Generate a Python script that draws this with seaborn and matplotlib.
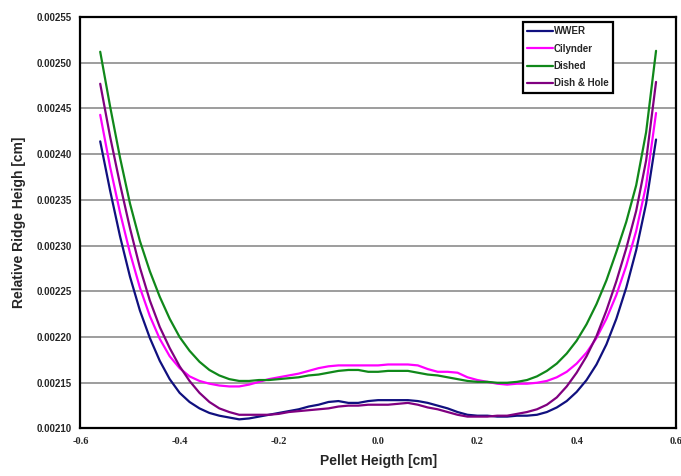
import numpy as np
import pandas as pd
import seaborn as sns
import matplotlib
matplotlib.use('Agg')
import matplotlib.pyplot as plt

# pellet height positions [cm]
x_pos = [-0.56, -0.54, -0.52, -0.50, -0.48, -0.46, -0.44, -0.42, -0.40, -0.38,
         -0.36, -0.34, -0.32, -0.30, -0.28, -0.26, -0.24, -0.22, -0.20, -0.18,
         -0.16, -0.14, -0.12, -0.10, -0.08, -0.06, -0.04, -0.02, 0.00, 0.02,
         0.04, 0.06, 0.08, 0.10, 0.12, 0.14, 0.16, 0.18, 0.20, 0.22,
         0.24, 0.26, 0.28, 0.30, 0.32, 0.34, 0.36, 0.38, 0.40, 0.42,
         0.44, 0.46, 0.48, 0.50, 0.52, 0.54, 0.56]

# relative ridge height, in units of 1e-5 cm
wwer = [241.4, 236.0, 231.0, 226.6, 222.9, 219.9, 217.4, 215.4, 213.9, 212.9,
        212.2, 211.7, 211.4, 211.2, 211.0, 211.1, 211.3, 211.5, 211.7, 211.9,
        212.1, 212.4, 212.6, 212.9, 213.0, 212.8, 212.8, 213.0, 213.1, 213.1,
        213.1, 213.1, 213.0, 212.8, 212.5, 212.2, 211.8, 211.5, 211.4, 211.4,
        211.3, 211.3, 211.4, 211.4, 211.5, 211.8, 212.3, 213.0, 214.0, 215.3,
        217.0, 219.2, 222.0, 225.4, 229.5, 234.6, 241.6]
cilynder = [244.3, 238.6, 233.6, 229.2, 225.4, 222.3, 219.8, 217.9, 216.6, 215.7,
            215.2, 214.9, 214.7, 214.6, 214.6, 214.8, 215.1, 215.4, 215.6, 215.8,
            216.0, 216.3, 216.6, 216.8, 216.9, 216.9, 216.9, 216.9, 216.9, 217.0,
            217.0, 217.0, 216.9, 216.5, 216.2, 216.2, 216.1, 215.6, 215.3, 215.1,
            214.9, 214.8, 214.9, 214.9, 215.0, 215.2, 215.6, 216.2, 217.1, 218.3,
            219.9, 222.0, 224.6, 227.8, 231.6, 236.6, 244.5]
dished = [251.2, 245.2, 239.6, 234.6, 230.5, 227.2, 224.4, 222.0, 220.0, 218.5,
          217.3, 216.4, 215.8, 215.4, 215.2, 215.2, 215.3, 215.3, 215.4, 215.5,
          215.6, 215.8, 215.9, 216.1, 216.3, 216.4, 216.4, 216.2, 216.2, 216.3,
          216.3, 216.3, 216.1, 215.9, 215.8, 215.6, 215.4, 215.2, 215.1, 215.1,
          215.0, 215.0, 215.1, 215.3, 215.7, 216.3, 217.1, 218.2, 219.6, 221.4,
          223.6, 226.2, 229.3, 232.6, 236.6, 242.4, 251.3]
dish_hole = [247.7, 241.9, 236.7, 231.9, 227.6, 224.0, 221.1, 218.8, 216.8, 215.2,
             213.9, 212.9, 212.2, 211.8, 211.5, 211.5, 211.5, 211.5, 211.6, 211.8,
             211.9, 212.0, 212.1, 212.2, 212.4, 212.5, 212.5, 212.6, 212.6, 212.6,
             212.7, 212.8, 212.6, 212.3, 212.1, 211.8, 211.5, 211.3, 211.3, 211.3,
             211.4, 211.4, 211.6, 211.8, 212.1, 212.6, 213.4, 214.6, 216.1, 217.9,
             220.1, 222.9, 226.1, 229.7, 233.8, 239.3, 247.9]

series_names = ['WWER', 'Cilynder', 'Dished', 'Dish & Hole']
series_colors = ['#10107f', '#ff00ff', '#10881a', '#800080']

frames = []
for name, vals in zip(series_names, [wwer, cilynder, dished, dish_hole]):
    frames.append(pd.DataFrame({'x': x_pos, 'y': np.array(vals) * 1e-5, 'series': name}))
df = pd.concat(frames, ignore_index=True)

sns.set_style('white')
plt.rcParams['font.family'] = ['Liberation Sans', 'DejaVu Sans']

fig = plt.figure(figsize=(6.81, 4.76), dpi=100)
ax = fig.add_axes([0.118, 0.0998, 0.8745, 0.8645])

sns.lineplot(data=df, x='x', y='y', hue='series', palette=series_colors,
             hue_order=series_names, sort=False, linewidth=1.6, ax=ax, legend=False)

ax.set_xlim(-0.6, 0.6)
ax.set_ylim(0.00210, 0.00255)
yt = [0.00210 + i * 0.00005 for i in range(10)]
ax.set_yticks(yt)
ax.set_yticklabels(['%.5f' % v for v in yt], fontsize=7, fontweight='bold')
xt = [-0.6, -0.4, -0.2, 0.0, 0.2, 0.4, 0.6]
ax.set_xticks(xt)
ax.set_xticklabels(['%.1f' % v for v in xt], fontsize=7.5, fontweight='bold',
                   family='Liberation Serif')
ax.grid(axis='y', color='#8c8c8c', linewidth=1.2)
ax.grid(axis='x', visible=False)
ax.set_axisbelow(True)
for s in ax.spines.values():
    s.set_color('black')
    s.set_linewidth(1.6)
ax.tick_params(axis='both', direction='out', length=4, width=1.2, color='black', pad=2)

ax.set_xlabel('Pellet Heigth [cm]', fontsize=10, fontweight='bold', labelpad=6)
ax.set_ylabel('Relative Ridge Heigh [cm]', fontsize=10, fontweight='bold', labelpad=8)

handles = [plt.Line2D([], [], color=c, linewidth=1.6) for c in series_colors]
leg = ax.legend(handles, series_names, loc='upper left',
                bbox_to_anchor=(523 / 681, 1 - 22 / 476), bbox_transform=fig.transFigure,
                prop={'size': 7, 'weight': 'bold'}, handlelength=2.6, handletextpad=0.1,
                labelspacing=0.75, borderpad=0.45, borderaxespad=0, fancybox=False,
                framealpha=1, edgecolor='black')
leg.get_frame().set_linewidth(1.6)

fig.savefig('out.png', dpi=100)
